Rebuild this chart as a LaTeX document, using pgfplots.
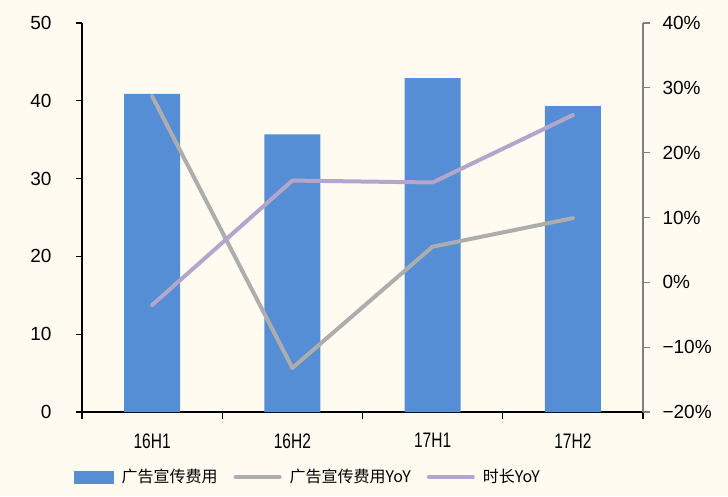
\documentclass[border=0pt]{standalone}
\usepackage{pgfplots}
\pgfplotsset{compat=1.18}
\usepackage{fontspec}
\setmainfont{Liberation Sans}
\newfontfamily\cjk{Noto Sans CJK SC}
\newfontfamily\narrowfont[FakeStretch=0.74]{Liberation Sans}
\definecolor{bg}{HTML}{FFFBF0}
\definecolor{barblue}{HTML}{558ED5}
\definecolor{lgray}{HTML}{ADADAD}
\definecolor{lpurple}{HTML}{B4A5CA}
\begin{document}
\begin{tikzpicture}[x=1pt,y=1pt]
\fill[bg] (-82pt,-84pt) rectangle (646pt,412pt);
\begin{axis}[
  scale only axis, width=561pt, height=389pt,
  xmin=-0.5, xmax=3.5, ymin=0, ymax=50,
  axis x line*=bottom, axis y line*=left,
  axis line style={black, line width=1.3pt},
  xtick={0,1,2,3}, xticklabels={16H1,16H2,17H1,17H2},
  major x tick style={draw=none},
  minor xtick={-0.5,0.5,1.5,2.5,3.5},
  minor x tick style={black, line width=1.3pt},
  minor tick length=7pt,
  xtick align=outside,
  xticklabel style={font=\narrowfont\fontsize{21}{23}\selectfont, yshift=-12pt},
  ytick={0,10,...,50},
  ytick align=outside, major tick length=6pt,
  ytick style={black, line width=1.3pt},
  yticklabel style={font=\fontsize{19}{21}\selectfont, xshift=-21pt},
  /pgf/number format/assume math mode=true,
  ybar, bar width=56pt,
]
\addplot[fill=barblue, draw=none] coordinates {(0,40.9) (1,35.7) (2,42.9) (3,39.3)};
\end{axis}
\begin{axis}[
  scale only axis, width=561pt, height=389pt,
  xmin=-0.5, xmax=3.5, ymin=-20, ymax=40,
  axis x line=none, axis y line*=right,
  axis line style={gray, line width=1.3pt},
  ytick={-20,-10,...,40},
  yticklabels={−20\%,−10\%,0\%,10\%,20\%,30\%,40\%},
  ytick align=outside, major tick length=7pt,
  ytick style={gray, line width=1.3pt},
  yticklabel style={font=\fontsize{19}{21}\selectfont, xshift=9pt},
  legend columns=3,
  legend style={at={(0.403,-0.167)}, anchor=center, draw=none, fill=none,
    font=\cjk\fontsize{16}{18}\selectfont,
    /tikz/every odd column/.append style={column sep=6pt},
    /tikz/every even column/.append style={column sep=14pt}},
]
\addlegendimage{legend image code/.code={\fill[barblue] (0pt,-6pt) rectangle (39pt,6pt);}}
\addlegendentry{广告宣传费用}
\addplot[lgray, line width=4pt, line cap=round, line join=round,
  legend image code/.code={\draw[lgray, line width=4pt, line cap=round] (0pt,0pt) -- (44pt,0pt);}]
  coordinates {(0,28.7) (1,-13.2) (2,5.5) (3,9.9)};
\addlegendentry{广告宣传费用YoY}
\addplot[lpurple, line width=4pt, line cap=round, line join=round,
  legend image code/.code={\draw[lpurple, line width=4pt, line cap=round] (0pt,0pt) -- (44pt,0pt);}]
  coordinates {(0,-3.5) (1,15.7) (2,15.4) (3,25.8)};
\addlegendentry{时长YoY}
\end{axis}
\end{tikzpicture}
\end{document}
